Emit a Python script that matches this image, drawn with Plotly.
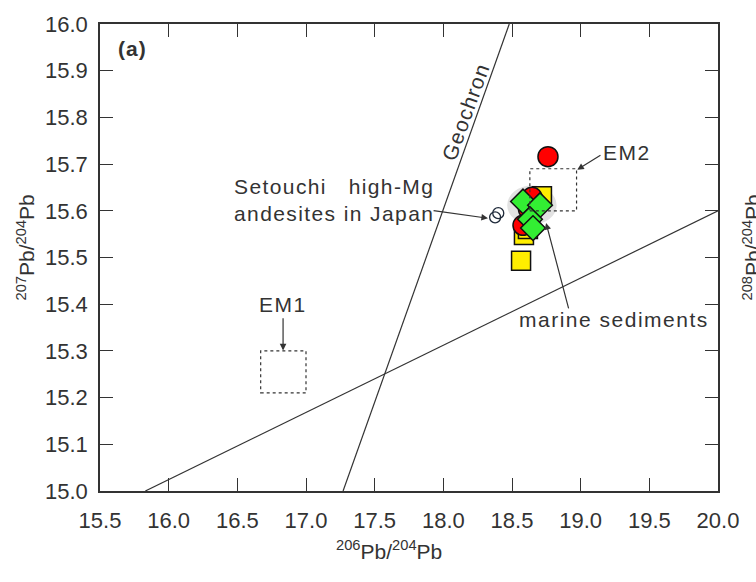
import plotly.graph_objects as go

# Pb isotope data (206Pb/204Pb vs 207Pb/204Pb)
red_x = [18.762, 18.646, 18.620, 18.580]
red_y = [15.716, 15.629, 15.604, 15.569]

yellow_x = [18.566, 18.718, 18.587, 18.616]
yellow_y = [15.493, 15.631, 15.548, 15.561]

green_x = [18.580, 18.704, 18.631, 18.653]
green_y = [15.620, 15.612, 15.582, 15.563]

setouchi_x = [18.377, 18.400]
setouchi_y = [15.586, 15.595]

# Reference lines: Geochron and the regression line
geochron_x = [17.27, 18.48]
geochron_y = [15.0, 16.0]
nhrl_x = [15.83, 20.0]
nhrl_y = [15.0, 15.6]

# Mantle end-member fields (x0, x1, y0, y1)
em1_box = [16.67, 17.00, 15.21, 15.30]
em2_box = [18.63, 18.97, 15.60, 15.69]

# Marine sediment field (centre and half-widths)
sed_cx, sed_cy, sed_rx, sed_ry = 18.645, 15.612, 0.18, 0.042

x_ticks = [15.5, 16.0, 16.5, 17.0, 17.5, 18.0, 18.5, 19.0, 19.5, 20.0]
y_ticks = [15.0, 15.1, 15.2, 15.3, 15.4, 15.5, 15.6, 15.7, 15.8, 15.9, 16.0]

FONT = "Liberation Sans, Arial, sans-serif"
INK = "#333333"


def spaced(s, ls=1.5):
    return f'<span style="letter-spacing:{ls}px">{s}</span>'


fig = go.Figure()

fig.add_shape(type="circle", xref="x", yref="y",
              x0=sed_cx - sed_rx, x1=sed_cx + sed_rx,
              y0=sed_cy - sed_ry, y1=sed_cy + sed_ry,
              fillcolor="#e2e2e2", line=dict(width=0), layer="below")

for bx in (em1_box, em2_box):
    fig.add_shape(type="rect", xref="x", yref="y",
                  x0=bx[0], x1=bx[1], y0=bx[2], y1=bx[3],
                  line=dict(color=INK, width=1.2, dash="dot"))

fig.add_trace(go.Scatter(x=geochron_x, y=geochron_y, mode="lines",
                         line=dict(color=INK, width=1.2), showlegend=False))
fig.add_trace(go.Scatter(x=nhrl_x, y=nhrl_y, mode="lines",
                         line=dict(color=INK, width=1.2), showlegend=False))

fig.add_trace(go.Scatter(x=setouchi_x, y=setouchi_y, mode="markers",
                         marker=dict(symbol="circle-open", size=11, color="#1f2a3a",
                                     line=dict(width=1.3)),
                         showlegend=False))
fig.add_trace(go.Scatter(x=yellow_x, y=yellow_y, mode="markers",
                         marker=dict(symbol="square", size=19, color="#FFEE00",
                                     line=dict(color="#111111", width=1.5)),
                         showlegend=False))
fig.add_trace(go.Scatter(x=red_x, y=red_y, mode="markers",
                         marker=dict(symbol="circle", size=20, color="#FF0000",
                                     line=dict(color="#111111", width=1.5)),
                         showlegend=False))
fig.add_trace(go.Scatter(x=green_x, y=green_y, mode="markers",
                         marker=dict(symbol="diamond", size=19, color="#33EE33",
                                     line=dict(color="#111111", width=1.5)),
                         showlegend=False))

txt = dict(family=FONT, size=21, color=INK)


def arrow(x_tail, y_tail, x_head, y_head):
    fig.add_annotation(x=x_head, y=y_head, ax=x_tail, ay=y_tail,
                       xref="x", yref="y", axref="x", ayref="y",
                       text="", showarrow=True, arrowhead=2, arrowsize=1.1,
                       arrowwidth=1.2, arrowcolor=INK)


fig.add_annotation(x=15.74, y=15.947, xref="x", yref="y",
                   text="<b>" + spaced("(a)", 1) + "</b>",
                   showarrow=False, font=dict(family=FONT, size=21, color=INK))
fig.add_annotation(x=18.165, y=15.812, xref="x", yref="y",
                   text=spaced("Geochron", 1.2),
                   textangle=-70, showarrow=False, font=txt)
fig.add_annotation(x=19.337, y=15.725, xref="x", yref="y", text=spaced("EM2"),
                   showarrow=False, font=txt)
arrow(19.155, 15.721, 18.975, 15.688)
fig.add_annotation(x=16.833, y=15.399, xref="x", yref="y", text=spaced("EM1"),
                   showarrow=False, font=txt)
arrow(16.833, 15.373, 16.833, 15.301)
fig.add_annotation(x=16.461, y=15.623, xref="x", yref="y", xanchor="left",
                   align="left",
                   text=spaced("Setouchi\u00a0\u00a0\u00a0high-Mg", 1.4) + "<br>"
                   + spaced("andesites in Japan", 1.4),
                   showarrow=False, font=txt)
arrow(17.918, 15.601, 18.325, 15.584)
fig.add_annotation(x=18.536, y=15.368, xref="x", yref="y", xanchor="left",
                   text=spaced("marine sediments", 1.5), showarrow=False, font=txt)
arrow(18.915, 15.388, 18.748, 15.574)

# Axis titles
fig.add_annotation(x=0, y=0.5, xref="paper", yref="paper", xshift=-90, yshift=10,
                   text="<sup>207</sup>Pb/<sup>204</sup>Pb", textangle=-90,
                   showarrow=False, font=txt)
fig.add_annotation(x=0.4676, y=0, xref="paper", yref="paper", yshift=-74,
                   text="<sup>206</sup>Pb/<sup>204</sup>Pb",
                   showarrow=False, font=txt)
# Neighbouring panel's axis title, cut by the page edge
fig.add_annotation(x=1, y=0.5, xref="paper", yref="paper", xshift=48, yshift=10,
                   text="<sup>208</sup>Pb/<sup>204</sup>Pb", textangle=-90,
                   showarrow=False, font=txt)

axis_common = dict(showline=True, linecolor=INK, linewidth=1.5, mirror="allticks",
                   ticks="inside", ticklen=13, tickcolor=INK, tickwidth=1.2,
                   showgrid=False, zeroline=False, tickformat=".1f",
                   tickfont=dict(family=FONT, size=22, color=INK))

fig.update_xaxes(range=[15.5, 20.0], tickvals=x_ticks, ticklabelstandoff=9,
                 **axis_common)
fig.update_yaxes(range=[15.0, 16.0], tickvals=y_ticks, ticklabelstandoff=6,
                 **axis_common)

fig.update_layout(width=756, height=582,
                  margin=dict(l=100, r=38, t=22, b=91),
                  plot_bgcolor="white", paper_bgcolor="white",
                  showlegend=False)

fig.write_html("out.html")
